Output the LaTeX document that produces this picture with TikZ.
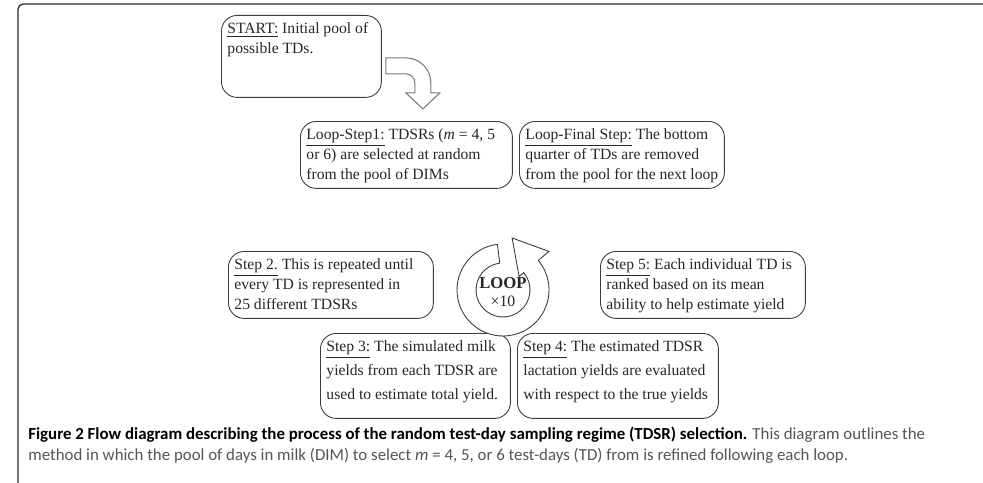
\documentclass[tikz,border=0pt]{standalone}
\usepackage{fontspec}
\setmainfont{Liberation Serif}
\newfontfamily\captionfont{Carlito}
\usepackage{tikz}
\usetikzlibrary{positioning, calc}
\definecolor{linegray}{HTML}{3C3C3C}
\definecolor{textgray}{HTML}{262626}
\definecolor{arrowgray}{HTML}{7A7A7A}
\definecolor{capgray}{HTML}{555555}

% top aligned text inside a box
\newcommand{\steptext}[3]{\parbox[t][#2][t]{#1}{\raggedright #3}}

\tikzset{
	stepbox/.style={draw=linegray, line width=0.5pt, rounded corners=9pt, anchor=north west,
		inner xsep=0.12cm, inner ysep=0.14cm, text=textgray,
		font=\fontsize{8.9pt}{11.4pt}\selectfont},
	widebox/.style={stepbox, font=\fontsize{8.9pt}{13.6pt}\selectfont},
	hollowarrow/.style={draw=arrowgray, fill=white, line width=0.6pt, line join=miter},
	captionline/.style={anchor=west, inner sep=0pt, font=\captionfont\fontsize{9.6pt}{11pt}\selectfont},
}

\begin{document}
\begin{tikzpicture}[x=0.02cm, y=-0.02cm]
		\useasboundingbox (0,0) rectangle (983,483);
		
		% Frame of the figure
		\draw[black!85, line width=0.7pt, rounded corners=3pt] (18,483) |- (983,4);
		
		% Start box
		\node[stepbox] (start) at (221,15) {\steptext{2.96cm}{1.36cm}{\underline{START:} Initial pool of\\possible TDs.}};
		
		% Loop boxes
		\node[stepbox] (step1) at (300,121) {\steptext{4.0cm}{1.06cm}{\underline{Loop-Step1:} TDSRs (\textit{m} = 4, 5\\or 6) are selected at random\\from the pool of DIMs}};
		\node[stepbox] (final) at (519,121) {\steptext{3.86cm}{1.06cm}{\underline{Loop-Final Step:} The bottom\\quarter of TDs are removed\\from the pool for the next loop}};
		\node[stepbox] (step2) at (228,251) {\steptext{3.86cm}{1.06cm}{\underline{Step 2.} This is repeated until\\every TD is represented in\\25 different TDSRs}};
		\node[stepbox] (step5) at (600,251) {\steptext{3.86cm}{1.06cm}{\underline{Step 5:} Each individual TD is\\ranked based on its mean\\ability to help estimate yield}};
		\node[widebox] (step3) at (320,333) {\steptext{3.56cm}{1.42cm}{\underline{Step 3:} The simulated milk\\yields from each TDSR are\\used to estimate total yield.}};
		\node[widebox] (step4) at (517,333) {\steptext{3.78cm}{1.42cm}{\underline{Step 4:} The estimated TDSR\\lactation yields are evaluated\\with respect to the true yields}};
		
		% Bent arrow from start into the loop
		\begin{scope}[shift={($(start.south east)+(24,-15)$)}, y=0.02cm]
			\draw[hollowarrow] (-20,25) -- (0,25) arc[start angle=90, end angle=0, radius=25]
			-- (25,-10) -- (34,-10) -- (17,-26) -- (0,-10) -- (9,-10)
			-- (9,0) arc[start angle=0, end angle=90, radius=9] -- (-20,9) -- cycle;
		\end{scope}
		
		% Loop circle
		\coordinate (loopc) at (503,290);
		\begin{scope}[shift={(loopc)}, y=0.02cm]
			\draw[hollowarrow, draw=linegray, line width=0.5pt] (97:46) arc[start angle=97, end angle=400, radius=46]
			-- (45.9,38.6) -- (9.1,52) -- (16.1,13.5) -- (40:27)
			arc[start angle=400, end angle=97, radius=27] -- cycle;
		\end{scope}
		\node[font=\fontsize{9.5pt}{11pt}\selectfont\bfseries, text=textgray, inner sep=0pt] (looptxt) at ($(loopc)+(0,-7)$) {LOOP};
		\node[font=\fontsize{9pt}{11pt}\selectfont, text=textgray, inner sep=0pt] (loopnum) at ($(loopc)+(0,11)$) {×10};
		
		% Caption
		\node[captionline] (cap1) at (28,435) {\textbf{Figure 2 Flow diagram describing the process of the random test-day sampling regime (TDSR) selection.} {\color{capgray}This diagram outlines the}};
		\node[captionline, text=capgray] (cap2) at (28,456) {method in which the pool of days in milk (DIM) to select \textit{m} = 4, 5, or 6 test-days (TD) from is refined following each loop.};
		
	\end{tikzpicture}
\end{document}
